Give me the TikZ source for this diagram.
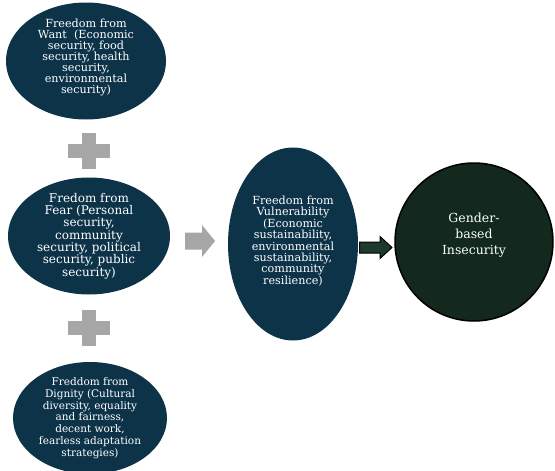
\documentclass[tikz,border=0pt]{standalone}
\usepackage{fontspec}
\setmainfont{DejaVu Serif}
\usetikzlibrary{shapes.geometric}
\definecolor{navy}{HTML}{0D3349}
\definecolor{darkgreen}{HTML}{13291E}
\definecolor{arrowgreen}{HTML}{1E3A2C}
\definecolor{plusgray}{HTML}{A6A6A6}
\tikzset{
  blueell/.style={ellipse, fill=navy, draw=none, inner sep=0pt},
  bluetext/.style={text=white, align=center, inner sep=0pt},
  greencirc/.style={circle, fill=darkgreen, draw=black, line width=1.5pt, inner sep=0pt},
  greentext/.style={text=white, align=center, inner sep=0pt,
     font=\fontsize{12.5}{16}\selectfont},
  plusshape/.style={fill=plusgray, draw=none},
  grayarrow/.style={fill=plusgray, draw=none},
  darkarrow/.style={fill=arrowgreen, draw=black, line width=1pt, line join=miter}
}
\begin{document}
\begin{tikzpicture}[x=1pt,y=-1pt]
\useasboundingbox (0,0) rectangle (555,471);
% ellipses
\node[blueell, minimum width=160pt, minimum height=117pt] (want) at (86,61) {};
\node[bluetext, font=\fontsize{11.2}{11}\selectfont] (wantt) at ([yshift=4pt]want.center)
  {Freedom from\\Want~~(Economic\\security, food\\security, health\\security,\\environmental\\security)};
\node[blueell, minimum width=162pt, minimum height=117pt] (fear) at (89,236) {};
\node[bluetext, font=\fontsize{12}{12.3}\selectfont] (feart) at ([yshift=0pt]fear.center)
  {Fredom from\\Fear (Personal\\security,\\community\\security, political\\security, public\\security)};
\node[blueell, minimum width=154pt, minimum height=112pt] (dignity) at (90,418) {};
\node[bluetext, font=\fontsize{10.5}{11.8}\selectfont] (dignityt) at ([yshift=0pt]dignity.center)
  {Freddom from\\Dignity (Cultural\\diversity, equality\\and fairness,\\decent work,\\fearless adaptation\\strategies)};
\node[blueell, minimum width=130pt, minimum height=193pt] (vuln) at (293,244) {};
\node[bluetext, font=\fontsize{11.2}{11.4}\selectfont] (vulnt) at ([yshift=3pt]vuln.center)
  {Freedom from\\Vulnerability\\(Economic\\sustainability,\\environmental\\sustainability,\\community\\resilience)};
\node[greencirc, minimum size=158pt] (gender) at (474,242) {};
\node[greentext] (gendert) at ([yshift=7pt]gender.center)
  {Gender-\\based\\Insecurity};
% plus signs
\coordinate (p1) at (89,151);
\coordinate (p2) at (88.5,328);
\foreach \p in {p1,p2}{
  \fill[plusshape] ([xshift=-21pt,yshift=-7pt]\p) rectangle ([xshift=21pt,yshift=7pt]\p);
  \fill[plusshape] ([xshift=-7pt,yshift=-18pt]\p) rectangle ([xshift=7pt,yshift=18pt]\p);
}
% gray block arrow
\coordinate (ga) at (185,241);
\fill[grayarrow] (ga) ++(0,-8.5) -- ++(17,0) -- ++(0,-7.5) -- ++(13,16) -- ++(-13,16) -- ++(0,-7.5) -- ++(-17,0) -- cycle;
% dark block arrow
\coordinate (da) at (359.5,247.5);
\draw[darkarrow] (da) ++(0,-5.5) -- ++(20.5,0) -- ++(0,-5.5) -- ++(12,11) -- ++(-12,11) -- ++(0,-5.5) -- ++(-20.5,0) -- cycle;
\end{tikzpicture}
\end{document}
